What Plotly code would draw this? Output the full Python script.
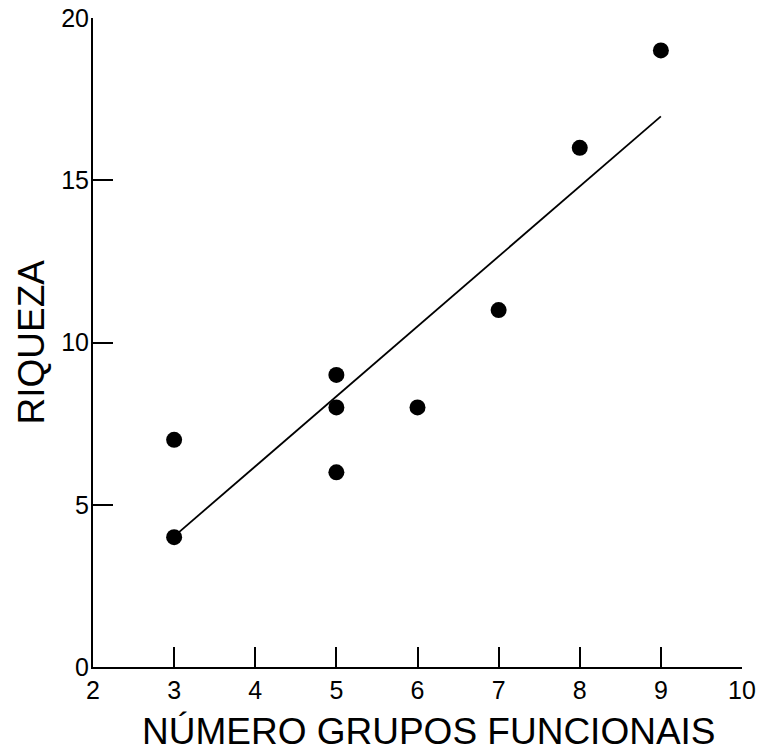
import numpy as np
import plotly.graph_objects as go

# Data
grupos = [3, 3, 5, 5, 5, 6, 7, 8, 9]
riqueza = [7, 4, 9, 8, 6, 8, 11, 16, 19]
x_ticks = [2, 3, 4, 5, 6, 7, 8, 9, 10]
y_ticks = [0, 5, 10, 15, 20]

# Linear regression line over the observed range
slope, intercept = np.polyfit(grupos, riqueza, 1)
fit_x = [min(grupos), max(grupos)]
fit_y = [slope * v + intercept for v in fit_x]

FONT = "Liberation Sans, Arial, sans-serif"

fig = go.Figure()
fig.add_trace(go.Scatter(x=fit_x, y=fit_y, mode="lines",
                         line=dict(color="black", width=1.8),
                         showlegend=False, hoverinfo="skip"))
fig.add_trace(go.Scatter(x=grupos, y=riqueza, mode="markers",
                         marker=dict(color="black", size=16),
                         showlegend=False))

fig.update_layout(
    width=760, height=755,
    margin=dict(l=93, r=18, t=18, b=88),
    paper_bgcolor="white", plot_bgcolor="white",
    font=dict(family=FONT, color="black"),
    xaxis=dict(range=[2, 10], tickvals=x_ticks, ticks="inside", ticklen=20,
               tickwidth=1.8, tickcolor="black", showline=True, linewidth=2,
               linecolor="black", showgrid=False, zeroline=False,
               automargin=False,
               tickfont=dict(size=25, family=FONT)),
    yaxis=dict(range=[0, 20], tickvals=y_ticks, ticks="inside", ticklen=20,
               tickwidth=1.8, tickcolor="black", showline=True, linewidth=2,
               linecolor="black", showgrid=False, zeroline=False,
               automargin=False, ticklabelstandoff=-3,
               tickfont=dict(size=25, family=FONT)),
    annotations=[
        dict(text="NÚMERO GRUPOS FUNCIONAIS", xref="paper", yref="paper",
             x=0.5177, y=0, xanchor="center", yanchor="top", yshift=-42,
             showarrow=False, font=dict(size=37, family=FONT)),
        dict(text="RIQUEZA", xref="paper", yref="paper", textangle=-90,
             x=0, y=0.5, xanchor="center", yanchor="middle", xshift=-62,
             showarrow=False, font=dict(size=37, family=FONT)),
    ],
)

fig.write_html("out.html")
